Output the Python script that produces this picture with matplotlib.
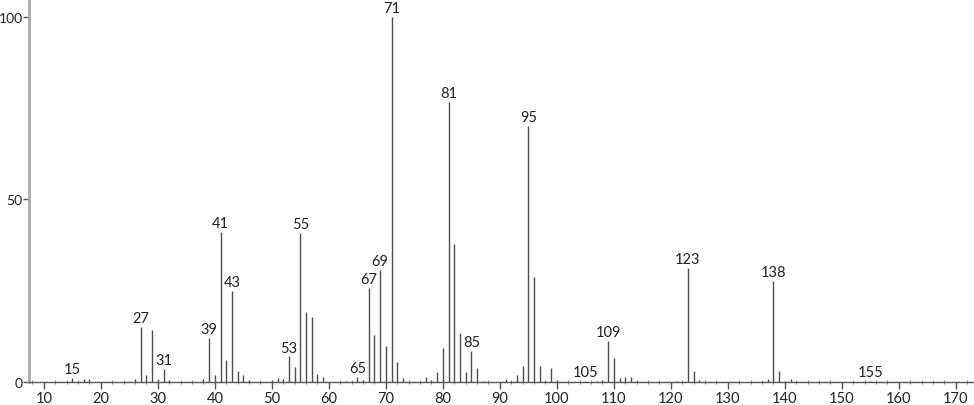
import matplotlib
matplotlib.use("Agg")
import matplotlib.pyplot as plt
from matplotlib.ticker import MultipleLocator

# m/z values and relative intensities
mz = [15, 17, 18, 26, 27, 28, 29, 30, 31, 32, 38, 39, 40, 41, 42, 43, 44, 45, 46,
      50, 51, 52, 53, 54, 55, 56, 57, 58, 59, 63, 65, 66, 67, 68, 69, 70, 71, 72, 73,
      77, 78, 79, 80, 81, 82, 83, 84, 85, 86, 87, 91, 92, 93, 94, 95, 96, 97, 98, 99,
      100, 105, 107, 108, 109, 110, 111, 112, 113, 114, 121, 123, 124, 125,
      137, 138, 139, 140, 141, 155]
intensity = [1.2, 0.8, 0.8, 0.8, 15.0, 2.0, 14.3, 0.8, 3.6, 0.5, 0.8, 12.0, 2.0, 41.0, 6.0, 25.0, 3.0, 1.9, 0.5,
             0.5, 1.1, 0.7, 7.0, 4.1, 40.8, 19.3, 17.8, 2.3, 1.3, 0.4, 1.4, 0.6, 25.8, 12.8, 30.8, 9.8, 100.0, 5.5, 1.2,
             1.5, 0.5, 2.8, 9.3, 76.7, 37.8, 13.4, 2.8, 8.4, 3.8, 0.4, 0.8, 0.4, 2.0, 4.5, 70.0, 28.8, 4.4, 0.4, 3.8,
             0.6, 0.4, 0.4, 0.5, 11.2, 6.5, 1.2, 1.3, 1.3, 0.4, 0.3, 31.2, 3.0, 0.5,
             0.8, 27.7, 3.0, 0.4, 0.8, 0.4]
labeled = [15, 27, 31, 39, 41, 43, 53, 55, 65, 67, 69, 71, 81, 85, 95, 105, 109, 123, 138, 155]

x_ticks = list(range(10, 171, 10))
y_ticks = [0, 50, 100]

plt.rcParams['font.family'] = ['Lato', 'DejaVu Sans']

fig = plt.figure(figsize=(9.74, 4.06), dpi=100)
ax = fig.add_axes([29 / 974, 23 / 406, 944 / 974, 382 / 406])

ax.vlines(mz, 0, intensity, colors='#4d4d4d', linewidth=1.0)

for m, v in zip(mz, intensity):
    if m in labeled:
        ax.annotate(str(m), (m, v), xytext=(0, 3.5), textcoords='offset points',
                    ha='center', va='baseline', fontsize=10.5, color='#222222')

ax.set_xlim(7.4, 173)
ax.set_ylim(0, 104.6)

ax.set_xticks(x_ticks)
ax.set_xticklabels([str(t) for t in x_ticks])
ax.xaxis.set_minor_locator(MultipleLocator(2))
ax.set_yticks(y_ticks)
ax.set_yticklabels([str(t) for t in y_ticks])

for s in ['top', 'right']:
    ax.spines[s].set_visible(False)
ax.spines['left'].set_color('#aaaaaa')
ax.spines['left'].set_linewidth(2)
ax.spines['bottom'].set_color('#555555')
ax.spines['bottom'].set_linewidth(1)

ax.tick_params(axis='x', which='major', direction='out', length=5, width=1,
               color='#555555', labelsize=10.5, labelcolor='#222222', pad=1.5)
ax.tick_params(axis='x', which='minor', direction='inout', length=3, width=0.7,
               color='#888888')
ax.tick_params(axis='y', which='major', direction='out', length=4, width=1,
               color='#555555', labelsize=10, labelcolor='#222222', pad=0.5)

fig.savefig('out.png', dpi=100)
